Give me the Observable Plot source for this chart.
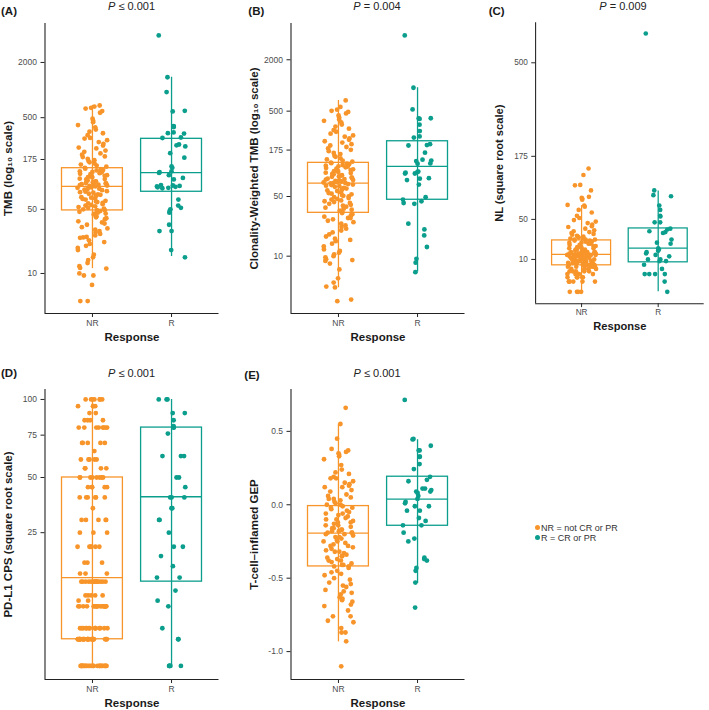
<!DOCTYPE html>
<html><head><meta charset="utf-8">
<script src="https://cdn.jsdelivr.net/npm/d3@7"></script>
<script src="https://cdn.jsdelivr.net/npm/@observablehq/plot@0.6"></script>
<style>
html,body{margin:0;padding:0;background:#fff;}
#root{position:relative;width:709px;height:710px;overflow:hidden;font-family:"Liberation Sans",Arial,sans-serif;color:#1a1a1a;}
.panel{position:absolute;}
.panel svg{overflow:visible;}
.lbl{position:absolute;line-height:1;white-space:nowrap;}
.letter{font-weight:bold;font-size:11.5px;}
.ptitle{font-size:11px;transform:translateX(-50%);color:#222;}
.legend{position:absolute;font-size:9px;line-height:1;color:#333;}
.legend .row{position:absolute;white-space:nowrap;}
.legend .dot{position:absolute;width:5px;height:5px;border-radius:50%;}
g[aria-label="y-axis label"], g[aria-label="x-axis label"]{font-size:11.5px;font-weight:bold;fill:#1a1a1a;}
g[aria-label="y-axis tick label"], g[aria-label="x-axis tick label"]{fill:#4d4d4d;}
</style></head><body><div id="root"></div>
<script>
// ---------- categories, labels ----------
const groups = ["NR", "R"];
const groupColors = ["#F8952A", "#0B9E8D"];
const legendLabels = ["NR = not CR or PR", "R = CR or PR"];
const panelLetters = ["(A)", "(B)", "(C)", "(D)", "(E)"];
const pValueText = ["≤ 0.001", "= 0.004", "= 0.009", "≤ 0.001", "≤ 0.001"];
const yLabels = ["TMB (log₁₀ scale)", "Clonality-Weighted TMB (log₁₀ scale)", "NL (square root scale)", "PD-L1 CPS (square root scale)", "T-cell–inflamed GEP"];
const xLabel = "Response";

// ---------- tick labels ----------
const tmbTicks = [10, 50, 175, 500, 2000];
const nlTicks = [10, 50, 175, 500];
const cpsTicks = [25, 50, 75, 100];
const gepTicks = [-1.0, -0.5, 0.0, 0.5];

// ---------- box summaries [whiskerLow, Q1, median, Q3, whiskerHigh] per group ----------
const tmbBox = [[11.3, 48.7, 89, 140.6, 679], [15.3, 77.8, 126, 294, 1380]];
const cwtmbBox = [[4.27, 32.2, 71.6, 124, 667], [6.5, 45.8, 112.5, 222, 940]];
const nlBox = [[0, 6.7, 13.4, 25.2, 70.9], [0, 8.3, 18.2, 38.3, 96.9]];
const cpsBox = [[0, 1, 11, 50, 100], [0, 10, 40.3, 80, 100]];
const gepBox = [[-0.934, -0.42, -0.193, -0.009, 0.55], [-0.536, -0.143, 0.039, 0.191, 0.443]];

// ---------- points ----------
const tmbNR = [679, 660, 640, 628, 590, 566, 488, 462, 447, 415, 392, 371, 352, 338, 322, 301, 296, 284, 271, 259, 248, 236, 231, 219, 212, 204, 197, 189, 186, 178, 172, 168, 163, 158, 154, 150, 146, 142,
 139, 137, 134, 133, 130, 128, 127, 124, 122, 121, 118, 116, 115, 112, 111, 108, 107, 106, 103, 101, 100, 99, 97, 96, 96, 94, 93, 92, 91, 91, 90, 89,
 88, 87, 86, 84, 83, 82, 81, 79, 78, 77, 76, 74, 73, 72, 71, 70, 68, 67, 66, 65, 64, 62, 61, 60, 59, 58, 57, 56, 55, 54, 53, 52, 51, 50, 49, 49,
 48, 47, 46, 45, 45, 44, 42, 41, 40, 39, 37, 36, 35, 34, 32, 31, 30, 29, 28, 27, 26, 25, 24.7, 24.5, 23, 22, 21, 20, 19, 18, 16, 15, 14, 13, 12, 11.5, 11.3, 10, 9.5, 9.5, 7.5, 5, 5];
const tmbR = [3940, 1380, 950, 594, 585, 405, 401, 395, 345, 339, 335, 304, 300, 255, 250, 243, 205, 183, 147, 142, 130, 127, 125, 118, 110, 106, 92, 91, 90, 89, 88, 87, 86, 85, 64, 55, 52, 50, 48, 46, 34, 29, 29, 18, 15];

const cwtmbNR = [667, 560, 520, 505, 490, 470, 445, 420, 400, 385, 370, 348, 330, 312, 300, 287, 272, 260, 251, 240, 231, 222, 214, 205, 198, 190, 183, 176, 170, 162, 157, 150, 146, 140, 136, 132, 128, 125,
 123, 121, 119, 117, 115, 113, 112, 110, 108, 106, 104, 102, 100, 99, 97, 95, 94, 92, 91, 89, 88, 86, 85, 84, 82, 81, 80, 79, 78, 77, 76, 75, 74, 74, 73, 72, 72, 71,
 70, 69, 68, 67, 66, 65, 63, 62, 61, 60, 59, 58, 56, 55, 54, 53, 52, 51, 50, 49, 48, 47, 46, 45, 44, 43, 42, 41, 40, 39, 38, 37, 36, 35, 34, 34, 33, 32,
 31, 30, 29, 28, 28, 27, 26, 25, 24, 23, 22, 21, 20, 19, 18, 17, 16, 15.5, 15, 14, 13, 12, 11.5, 11, 10.5, 10, 9.7, 9.2, 9, 8.8, 8.2, 7, 5.5, 4.9, 4.4, 4.3, 3.1, 2.97];
const cwtmbR = [3855, 940, 524, 413, 410, 405, 347, 292, 253, 245, 205, 200, 198, 163, 135, 132, 130, 122, 121, 98, 97, 95, 93, 93, 82, 81, 78, 69, 49, 46, 44, 42, 41, 24, 20.6, 17.5, 12.8, 9.3, 8.4, 6.5];

const nlNR = [145, 130, 109, 108, 98, 86, 84, 83, 81, 72, 71, 69, 64, 60, 55, 52, 49, 47, 45, 43, 41, 40, 38, 36, 35, 34, 33, 32, 31, 30, 29, 29, 28, 27, 27, 26, 26, 26,
 25, 25, 24, 24, 23, 23, 22, 22, 21, 21, 20, 20, 19, 19, 19, 18, 18, 17, 17, 17, 16, 16, 16, 15, 15, 15, 15, 14, 14, 14, 14, 14, 14, 13, 13, 13, 13, 13,
 13, 13, 12, 12, 12, 12, 12, 11, 11, 11, 11, 11, 10, 10, 10, 10, 10, 9, 9, 9, 9, 9, 8, 8, 8, 8, 8, 8, 7, 7, 7, 7, 7, 7, 7, 7, 7, 7,
 6, 6, 6, 6, 6, 6, 5, 5, 5, 5, 5, 4, 4, 4, 4, 4, 3, 3, 3, 3, 3, 2, 2, 2, 2, 2, 1, 1, 1, 1, 1, 1, 0, 0, 0, 0];
const nlR = [636, 98, 89, 87, 71, 64, 55, 54, 46, 46, 38, 37, 35, 34, 33, 26, 23, 22, 18, 17, 16, 15, 14, 13, 12, 10, 10, 9, 9, 7, 5, 3, 3, 3, 3, 1, 0];

const cpsNR = [100, 100, 100, 100, 100, 100, 100, 95, 95, 95, 95, 90, 90, 85, 85, 85, 85, 80, 80, 80, 80, 80, 80, 80, 80,
 70, 70, 70, 70, 70, 65, 60, 60, 60, 60, 60, 55, 55, 55, 55, 50, 50, 50, 50, 50, 50, 50, 50, 45, 45, 45, 45, 45,
 40, 40, 40, 40, 40, 40, 35, 30, 30, 30, 30, 30, 25, 25, 25, 20, 20, 20, 20, 20, 20, 15, 15, 15, 12, 12, 12,
 10, 10, 10, 10, 10, 10, 10, 10, 10, 10, 10, 10, 10, 10, 10, 7, 7, 7, 7, 7, 6, 6,
 5, 5, 5, 5, 5, 5, 5, 5, 5, 5, 5, 5, 5, 5, 5, 5, 5, 5, 2, 2, 2, 2, 2, 2, 2, 2, 2, 2, 2, 2, 2, 2,
 1, 1, 1, 1, 1, 1, 1, 1, 1, 1, 1, 1, 1, 1, 1, 1, 1, 1, 1, 1, 1, 1, 1, 1, 1,
 0, 0, 0, 0, 0, 0, 0, 0, 0, 0, 0, 0, 0, 0, 0, 0, 0, 0, 0, 0, 0, 0, 0, 0, 0];
const cpsR = [100, 100, 100, 90, 90, 85, 81, 80, 80, 76, 62, 62, 62, 50, 50, 45, 40, 40, 40, 35, 35, 30, 30, 25, 20, 20, 17, 14, 11, 11, 8, 6, 5, 2, 1, 1, 0, 0, 0, 0, 0];

const gepNR = [0.66, 0.55, 0.45, 0.38, 0.37, 0.36, 0.35, 0.34, 0.33, 0.31, 0.27, 0.24, 0.22, 0.21, 0.19, 0.18, 0.18, 0.16, 0.15, 0.14, 0.13, 0.12, 0.12, 0.10, 0.09, 0.07, 0.06, 0.05, 0.04, 0.04, 0.03, 0.02, 0.01, 0.00, 0.00, -0.01,
 -0.02, -0.02, -0.03, -0.04, -0.05, -0.06, -0.06, -0.07, -0.08, -0.09, -0.10, -0.10, -0.11, -0.12, -0.12, -0.13, -0.14, -0.14, -0.15, -0.16, -0.16, -0.17, -0.17, -0.18, -0.18, -0.19, -0.19, -0.19, -0.20, -0.20,
 -0.21, -0.22, -0.22, -0.23, -0.24, -0.25, -0.25, -0.26, -0.27, -0.28, -0.28, -0.29, -0.30, -0.31, -0.32, -0.32, -0.33, -0.34, -0.35, -0.35, -0.36, -0.37, -0.38, -0.38, -0.39, -0.40, -0.41, -0.41, -0.42, -0.42,
 -0.43, -0.45, -0.46, -0.47, -0.48, -0.50, -0.51, -0.53, -0.54, -0.55, -0.56, -0.58, -0.59, -0.60, -0.61, -0.63, -0.64, -0.65, -0.66, -0.68, -0.69, -0.72, -0.76, -0.76, -0.79, -0.80, -0.84, -0.87, -0.87, -0.93, -1.10];
const gepR = [0.714, 0.448, 0.445, 0.402, 0.37, 0.37, 0.327, 0.327, 0.277, 0.243, 0.19, 0.17, 0.16, 0.11, 0.11, 0.10, 0.09, 0.09, 0.08, 0.06, 0.04, 0.02, 0.01, -0.01, -0.01, -0.04, -0.04, -0.09, -0.11, -0.14, -0.14, -0.19, -0.23, -0.25, -0.36, -0.37, -0.38, -0.43, -0.45, -0.53, -0.70];

// ---------- panel configuration ----------
const panels = [
  {vals: [tmbNR, tmbR], box: tmbBox, type: "log", domain: [3.66, 5320], ticks: tmbTicks, fmt: d => String(d)},
  {vals: [cwtmbNR, cwtmbR], box: cwtmbBox, type: "log", domain: [2.13, 5320], ticks: tmbTicks, fmt: d => String(d)},
  {vals: [nlNR, nlR], box: nlBox, type: "sqrt", domain: [-1.35, 690], ticks: nlTicks, fmt: d => String(d)},
  {vals: [cpsNR, cpsR], box: cpsBox, type: "sqrt", domain: [-0.26, 107.6], ticks: cpsTicks, fmt: d => String(d)},
  {vals: [gepNR, gepR], box: gepBox, type: "linear", domain: [-1.19, 0.785], ticks: gepTicks, fmt: d => d.toFixed(1)}
];

// layout
const panelPos = [[0, 0], [245.5, 0], [491.5, 0], [0, 366.3], [245.5, 366.3]];
const ML = 44.5, MT = 23, PW = 174, PH = 290, MB = 32, MR = 6;
const BOX_HALF = 0.385, JIT = 0.19;
function jitter(i, g) {
  const s = Math.sin((i + 1) * 12.9898 + (g + 1) * 78.233) * 43758.5453;
  return (s - Math.floor(s) - 0.5) * 2 * JIT;
}

const root = document.getElementById("root");
const FONT = '"Liberation Sans", Arial, sans-serif';

panels.forEach((p, k) => {
  const pts = [];
  p.vals.forEach((arr, gi) => arr.forEach((v, i) => pts.push({g: groups[gi], x: gi + 1 + jitter(i, gi), y: v})));
  const boxes = p.box.map((b, gi) => ({g: groups[gi], x: gi + 1, lo: b[0], q1: b[1], med: b[2], q3: b[3], hi: b[4]}));
  const chart = Plot.plot({
    width: ML + PW + MR, height: MT + PH + MB,
    marginLeft: ML, marginRight: MR, marginTop: MT, marginBottom: MB,
    style: {fontFamily: FONT, fontSize: "8.5px", color: "#222", background: "transparent", overflow: "visible"},
    x: {type: "linear", domain: [0.4, 2.6]},
    y: {type: p.type, domain: p.domain},
    color: {domain: groups, range: groupColors},
    marks: [
      Plot.ruleX(boxes, {x: "x", y1: "lo", y2: "hi", stroke: "g", strokeWidth: 1.3}),
      Plot.rect(boxes, {x1: d => d.x - BOX_HALF, x2: d => d.x + BOX_HALF, y1: "q1", y2: "q3", stroke: "g", fill: "none", strokeWidth: 1.3}),
      Plot.ruleY(boxes, {x1: d => d.x - BOX_HALF, x2: d => d.x + BOX_HALF, y: "med", stroke: "g", strokeWidth: 1.3}),
      Plot.dot(pts, {x: "x", y: "y", fill: "g", r: 2.4}),
      Plot.ruleX([0.4], {stroke: "#222", strokeWidth: 1.1}),
      Plot.ruleY([p.domain[0]], {stroke: "#222", strokeWidth: 1.1}),
      Plot.axisY({ticks: p.ticks, tickFormat: () => "", tickSize: 4, tickPadding: 4, label: yLabels[k], labelAnchor: "center", labelOffset: 41.5, labelArrow: "none"}),
      Plot.text(p.ticks, {y: d => d, text: p.fmt, frameAnchor: "left", textAnchor: "end", dx: -8, fill: "#4d4d4d", fontSize: 8.5}),
      Plot.axisX({ticks: [1, 2], tickFormat: d => groups[d - 1], tickSize: 4, tickPadding: 2, label: xLabel, labelAnchor: "center", labelOffset: 27, labelArrow: "none"})
    ]
  });
  const div = document.createElement("div");
  div.className = "panel";
  div.style.left = panelPos[k][0] + "px";
  div.style.top = panelPos[k][1] + "px";
  div.appendChild(chart);
  root.appendChild(div);
});

// panel letters and P-value titles (positioned by baseline)
const letterX = [1, 248.3, 488.7, 1, 244.3];
const letterBase = [15.8, 16, 16, 377.6, 379.3];
const titleBase = [10.8, 10.7, 10.7, 377.3, 377.3];
function addText(cls, html, left, baseline, fs) {
  const d = document.createElement("div");
  d.className = "lbl " + cls;
  d.innerHTML = html;
  d.style.left = left + "px";
  d.style.top = (baseline - 0.8465 * fs) + "px";
  root.appendChild(d);
}
panels.forEach((p, k) => {
  addText("letter", panelLetters[k], letterX[k], letterBase[k], 11.5);
  addText("ptitle", "<i>P</i> " + pValueText[k], panelPos[k][0] + ML + PW / 2, titleBase[k], 11);
});

// legend
const leg = document.createElement("div");
leg.className = "legend";
leg.style.left = "535px";
leg.style.top = "522px";
legendLabels.forEach((t, i) => {
  const row = document.createElement("div");
  row.className = "row";
  row.style.top = (i * 10.4) + "px";
  row.style.left = "0px";
  const dot = document.createElement("span");
  dot.className = "dot";
  dot.style.background = groupColors[i];
  dot.style.left = "0px";
  dot.style.top = "2.8px";
  const txt = document.createElement("span");
  txt.textContent = t;
  txt.style.position = "absolute";
  txt.style.left = "6px";
  txt.style.top = "1.5px";
  row.appendChild(dot);
  row.appendChild(txt);
  leg.appendChild(row);
});
root.appendChild(leg);
</script></body></html>
